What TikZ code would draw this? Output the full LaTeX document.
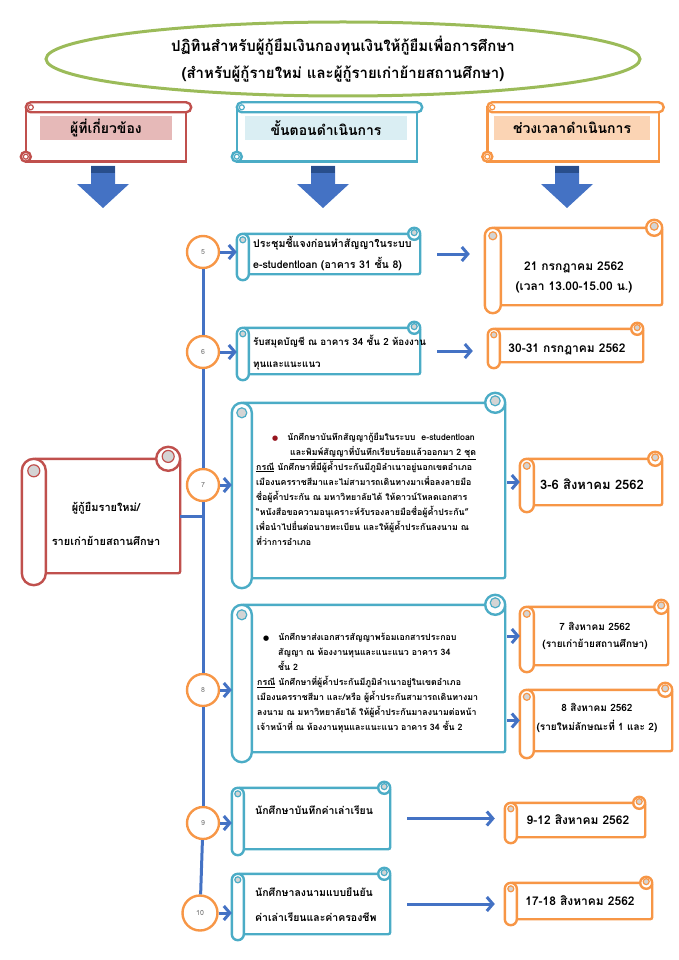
\documentclass[tikz,border=0pt]{standalone}
\usepackage{fontspec}
\newfontfamily\thai[Script=Thai]{Loma}
\newfontfamily\symb{DejaVu Sans}
\usetikzlibrary{calc,shapes.geometric,arrows.meta}

\definecolor{loanblue}{RGB}{68,114,196}
\definecolor{darkblue}{RGB}{40,78,140}
\definecolor{stepline}{RGB}{75,172,198}
\definecolor{dateline}{RGB}{247,150,70}
\definecolor{wholine}{RGB}{192,80,77}
\definecolor{titleline}{RGB}{155,187,89}
\definecolor{whofill}{RGB}{230,185,184}
\definecolor{stepfill}{RGB}{218,238,243}
\definecolor{datefill}{RGB}{251,212,180}
\definecolor{curl}{RGB}{212,212,212}
\definecolor{numgray}{RGB}{110,110,110}
\definecolor{bulletred}{RGB}{150,20,30}

% vertical scroll round a node: node, colour, radius
\newcommand\vscroll[3]{%
  \draw[#2, line width=2.4pt, fill=white, rounded corners=2pt]
    ($(#1.north west)+(#3,#3)$) rectangle ($(#1.south east)+(0,-#3)$);
  \draw[#2, line width=2.4pt, fill=white]
    ($(#1.north east)+(-#3,#3)$) circle (#3);
  \draw[#2, line width=1.2pt, fill=curl]
    ($(#1.north east)+(-#3,0.8*#3)$) circle (0.5*#3);
  \draw[#2, line width=2.4pt, fill=white, rounded corners=#3pt]
    ($(#1.north west)+(0,#3)$) rectangle ($(#1.south west)+(2*#3,0)$);
  \draw[#2, line width=1.2pt, fill=curl]
    ($(#1.north west)+(#3,2*#3)$) circle (0.5*#3);
}
% horizontal scroll round a node: node, colour, radius
\newcommand\hscroll[3]{%
  \draw[#2, line width=2.4pt, fill=white]
    ($(#1.north west)+(#3,#3)$) rectangle ($(#1.south east)+(-#3,0)$);
  \draw[#2, line width=2.4pt, fill=white, rounded corners=#3pt]
    ($(#1.north west)+(#3,0)$) rectangle ($(#1.north east)+(0,2*#3)$);
  \draw[#2, line width=1.2pt, fill=white]
    ($(#1.north west)+(2*#3,#3)$) circle (0.5*#3);
  \draw[#2, line width=2.4pt, fill=white, rounded corners=#3pt]
    ($(#1.south west)+(0,-2*#3)$) rectangle ($(#1.south west)+(2*#3,0)$);
  \draw[#2, line width=1.2pt, fill=white]
    ($(#1.south west)+(#3,-#3)$) circle (0.5*#3);
}

\begin{document}
\begin{tikzpicture}[x=1pt, y=-1pt,
  every node/.style = {inner sep=0pt},
  slot/.style 2 args = {minimum width=#1, minimum height=#2},
  txt/.style 2 args = {font=\thai\bfseries\fontsize{#1}{#2}\selectfont, align=left},
  ctxt/.style 2 args = {font=\thai\bfseries\fontsize{#1}{#2}\selectfont, align=center},
  tag/.style = {minimum height=24, font=\thai\bfseries\fontsize{14}{15}\selectfont},
  stepnum/.style = {circle, draw=dateline, line width=2.4pt, fill=white, minimum size=32,
                    font=\thai\fontsize{7}{8}\selectfont, text=numgray},
  spine/.style = {loanblue, line width=3pt},
  flow/.style = {loanblue, line width=3pt, -{Straight Barb[length=6pt, width=14pt]}}
  ]
  \useasboundingbox (0,0) rectangle (679,960);

  % title
  \node[ellipse, draw=titleline, line width=3pt, minimum width=594, minimum height=74,
        ctxt={15}{27}] (title) at (343,59)
    {ปฏิทินสำหรับผู้กู้ยืมเงินกองทุนเงินให้กู้ยืมเพื่อการศึกษา\\(สำหรับผู้กู้รายใหม่ และผู้กู้รายเก่าย้ายสถานศึกษา)};

  % column heads
  \node[slot={170}{59}] (hWho) at (106,132) {};
  \hscroll{hWho}{wholine}{5}
  \node[tag, fill=whofill, minimum width=132] (tWho) at (106,128) {ผู้ที่เกี่ยวข้อง};
  \node[slot={190}{59}] (hStep) at (327,132) {};
  \hscroll{hStep}{stepline}{5}
  \node[tag, fill=stepfill, minimum width=162] (tStep) at (326,128) {ขั้นตอนดำเนินการ};
  \node[slot={181}{59}] (hDate) at (573,132) {};
  \hscroll{hDate}{dateline}{5}
  \node[tag, fill=datefill, minimum width=156] (tDate) at (572,128) {ช่วงเวลาดำเนินการ};

  % big arrows
  \foreach \x in {103,323,567} {
    \fill[loanblue] (\x-12,166) -- ++(24,0) -- ++(0,18) -- ++(14,0) -- (\x,208)
      -- (\x-26,184) -- ++(14,0) -- cycle;
    \fill[darkblue] (\x-12,166) rectangle ++(24,7);
  }

  % borrower
  \node[slot={158}{138}] (who) at (101,516) {};
  \vscroll{who}{wholine}{12}
  \node[ctxt={11}{34}] (whoText) at (106,524) {ผู้กู้ยืมรายใหม่/\\รายเก่าย้ายสถานศึกษา};

  % steps
  \node[slot={183}{52}] (s5) at (328.5,254) {};
  \vscroll{s5}{stepline}{6}
  \node[txt={10.6}{21}, anchor=west] (t5) at (253,253)
    {ประชุมชี้แจงก่อนทำสัญญาในระบบ\\e-studentloan (อาคาร 31 ชั้น 8)};

  \node[slot={183}{58}] (s6) at (328.5,351) {};
  \vscroll{s6}{stepline}{6}
  \node[txt={9.8}{22}, anchor=west] (t6) at (253,353)
    {รับสมุดบัญชี ณ อาคาร 34 ชั้น 2 ห้องงาน\\ทุนและแนะแนว};

  \node[slot={273}{195}] (s7) at (368.5,490.5) {};
  \vscroll{s7}{stepline}{10}
  \node[txt={8.8}{15}, anchor=west] (t7) at (256,489)
    {\hspace*{16pt}{\symb\fontsize{7}{8}\selectfont\color{bulletred}●}\hspace{9pt}นักศึกษาบันทึกสัญญากู้ยืมในระบบ\ \ e-studentloan\\
     \hspace*{34pt}\underline{และพิมพ์สัญญาที่บันทึกเรียบร้อยแล้วออกมา 2 ชุด}\\
     \underline{กรณี} นักศึกษาที่มีผู้ค้ำประกันมีภูมิลำเนาอยู่นอกเขตอำเภอ\\
     เมืองนครราชสีมาและไม่สามารถเดินทางมาเพื่อลงลายมือ\\
     ชื่อผู้ค้ำประกัน ณ มหาวิทยาลัยได้ ให้ดาวน์โหลดเอกสาร\\
     “หนังสือขอความอนุเคราะห์รับรองลายมือชื่อผู้ค้ำประกัน”\\
     เพื่อนำไปยื่นต่อนายทะเบียน และให้ผู้ค้ำประกันลงนาม ณ\\
     ที่ว่าการอำเภอ};

  \node[slot={273}{167}] (s8) at (368.5,678.5) {};
  \vscroll{s8}{stepline}{10}
  \node[txt={8.8}{15}, anchor=west] (t8) at (257,683)
    {\hspace*{6pt}{\symb\fontsize{7}{8}\selectfont ●}\hspace{9pt}นักศึกษาส่งเอกสารสัญญาพร้อมเอกสารประกอบ\\
     \hspace*{21pt}สัญญา ณ ห้องงานทุนและแนะแนว อาคาร 34\\
     \hspace*{21pt}ชั้น 2\\
     \underline{กรณี} นักศึกษาที่ผู้ค้ำประกันมีภูมิลำเนาอยู่ในเขตอำเภอ\\
     เมืองนครราชสีมา และ/หรือ ผู้ค้ำประกันสามารถเดินทางมา\\
     ลงนาม ณ มหาวิทยาลัยได้ ให้ผู้ค้ำประกันมาลงนามต่อหน้า\\
     เจ้าหน้าที่ ณ ห้องงานทุนและแนะแนว อาคาร 34 ชั้น 2};

  \node[slot={158}{73}] (s9) at (311,818.5) {};
  \vscroll{s9}{stepline}{6}
  \node[txt={10.5}{21}, anchor=west] (t9) at (255,810) {นักศึกษาบันทึกค่าเล่าเรียน};

  \node[slot={158}{72}] (s10) at (311,904) {};
  \vscroll{s10}{stepline}{6}
  \node[txt={10.5}{25}, anchor=west] (t10) at (255,905)
    {นักศึกษาลงนามแบบยืนยัน\\ค่าเล่าเรียนและค่าครองชีพ};

  % dates
  \node[slot={177}{93}] (d5) at (573.5,266.5) {};
  \vscroll{d5}{dateline}{8}
  \node[ctxt={12}{20}] (dt5) at (574,277) {21 กรกฎาคม 2562\\(เวลา 13.00-15.00 น.)};

  \node[slot={155}{45}] (d6) at (565.5,345.5) {};
  \vscroll{d6}{dateline}{6}
  \node[ctxt={12}{13}] (dt6) at (567,349) {30-31 กรกฎาคม 2562};

  \node[slot={142}{60}] (d7) at (591,482) {};
  \vscroll{d7}{dateline}{7}
  \node[ctxt={13}{14}] (dt7) at (592,484) {3-6 สิงหาคม 2562};

  \node[slot={148}{72}] (d8a) at (594,636) {};
  \vscroll{d8a}{dateline}{7}
  \node[ctxt={10}{17}] (dt8a) at (595,636) {7 สิงหาคม 2562\\(รายเก่าย้ายสถานศึกษา)};

  \node[slot={152}{75}] (d8b) at (596,720.5) {};
  \vscroll{d8b}{dateline}{7}
  \node[ctxt={10}{19}] (dt8b) at (597,718) {8 สิงหาคม 2562\\(รายใหม่ลักษณะที่ 1 และ 2)};

  \node[slot={140}{46}] (d9) at (575,820) {};
  \vscroll{d9}{dateline}{6}
  \node[ctxt={12}{13}] (dt9) at (578,820) {9-12 สิงหาคม 2562};

  \node[slot={147}{48}] (d10) at (578.5,901) {};
  \vscroll{d10}{dateline}{6}
  \node[ctxt={12}{13}] (dt10) at (580,901) {17-18 สิงหาคม 2562};

  % step numbers on the spine
  \node[stepnum] (c5) at (203,252) {5};
  \node[stepnum] (c6) at (203,352) {6};
  \node[stepnum] (c7) at (203,485) {7};
  \node[stepnum] (c8) at (203,690) {8};
  \node[stepnum] (c9) at (203,823) {9};
  \node[stepnum, minimum size=35] (c10) at (200,913) {10};
  \foreach \a/\b in {5/6,6/7,7/8,8/9,9/10}
    \draw[spine] (c\a) -- (c\b);
  \draw[spine] (who.east) -- (who.east -| c7.center);

  % arrows to the steps
  \foreach \n in {5,6,7,8,9,10}
    \draw[flow] (c\n) -- (c\n -| s\n.west);

  % arrows to the dates
  \draw[flow, shorten <=17pt, shorten >=15pt] (s5.east) -- (s5.east -| d5.west);
  \draw[flow, shorten <=17pt, shorten >=15pt] (s6.east) -- (s6.east -| d6.west);
  \draw[flow, shorten <=2pt] (s7.east |- d7.west) -- (d7.west);
  \draw[flow, shorten <=2pt] (s8.east |- d8a.west) -- (d8a.west);
  \draw[flow, shorten <=2pt] (s8.east |- d8b.west) -- (d8b.west);
  \draw[flow, shorten <=17pt, shorten >=10pt] (s9.east) -- (s9.east -| d9.west);
  \draw[flow, shorten <=17pt, shorten >=10pt] (s10.east) -- (s10.east -| d10.west);
\end{tikzpicture}
\end{document}
